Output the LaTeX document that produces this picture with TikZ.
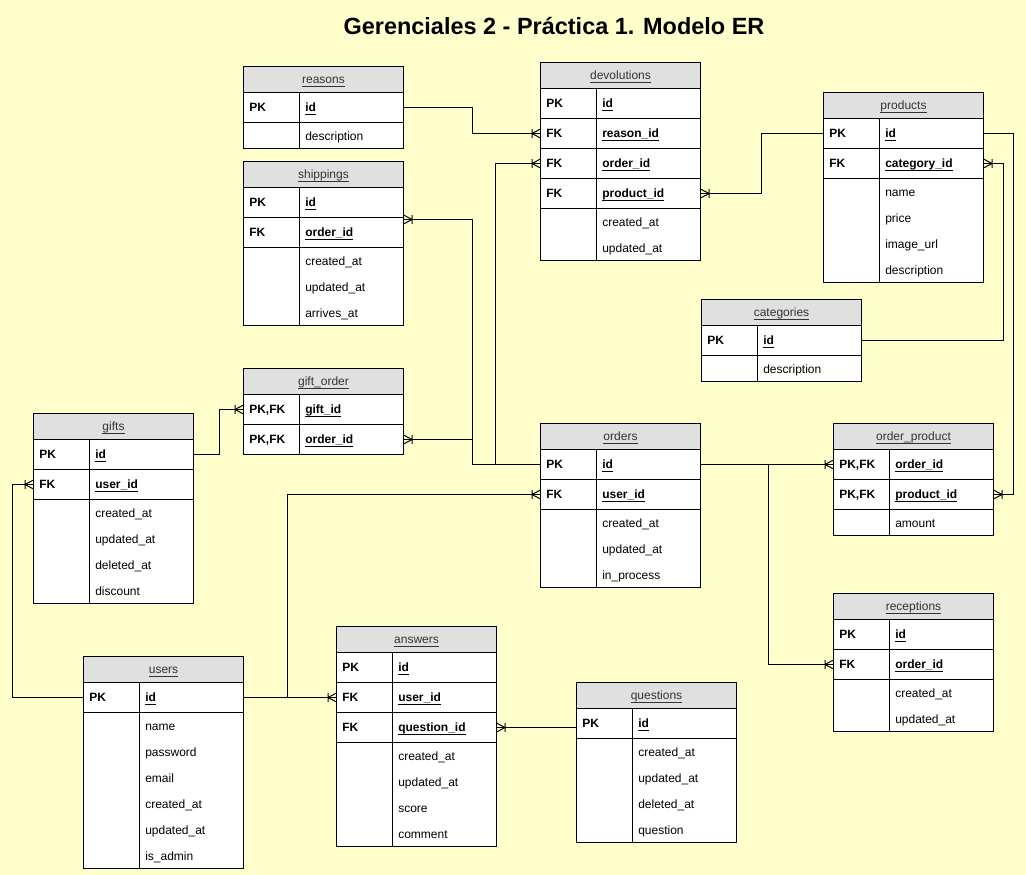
\documentclass[tikz,border=0pt]{standalone}
\usepackage{fontspec}
\setmainfont{Liberation Sans}
\usetikzlibrary{decorations.markings}
\definecolor{bg}{HTML}{FFFFCC}
\definecolor{hdrgray}{HTML}{E0E0E0}
\definecolor{hdrtext}{HTML}{333333}
\newcommand\ulx[1]{$\underline{\smash{\hbox{#1}}}$}
\newcommand\pkfk{PK,FK}
\tikzset{
 tbl/.style={draw=black, line width=0.75pt, inner sep=0pt, anchor=north west, minimum width=120pt},
 hdr/.style={tbl, fill=hdrgray, minimum height=19.5pt, text=hdrtext, font=\fontsize{9}{10}\selectfont, text height=6.6pt, text depth=0pt},
 keyrow/.style={tbl, fill=white, minimum height=22.5pt},
 attrbox/.style={tbl, fill=white},
 celltxt/.style={anchor=base west, inner sep=0pt, font=\fontsize{9}{10}\selectfont},
 keytxt/.style={celltxt, font=\fontsize{9}{10}\selectfont\bfseries},
 rel/.style={draw=black, line width=0.75pt, postaction={decorate, decoration={markings, mark=at position 1 with {\draw[line width=0.75pt] (-6pt,-3.2pt) -- (-6pt,3.2pt) (0pt,3.2pt) -- (-6pt,0pt) -- (0pt,-3.2pt);}}}},
}
\newcommand\ertable[8]{%
 \node[hdr] (#1) at (#3,#4) {\ulx{#2}};
 \foreach \kk/\ff/\nn [count=\ii] in {#5} {
   \node[keyrow] (#1-\nn) at ({#3},{#4+26+(\ii-1)*30}) {};
   \node[keytxt] (#1-\nn-k) at ([xshift=4.5pt,yshift=-3.3pt]#1-\nn.west) {\kk};
   \node[keytxt] (#1-\nn-f) at ([xshift=46.5pt,yshift=-3.3pt]#1-\nn.west) {\ulx{\ff}};
 }
 \ifnum#8>0
  \node[attrbox, minimum height={#8*19.5pt}] (#1-attrs) at ({#3},{#4+26+#6*30}) {};
  \foreach \aa [count=\ii] in {#7} {
   \node[celltxt] (#1-a\ii) at ({#3+62},{#4+26+#6*30+13+(\ii-1)*26+5.8}) {\aa};
  }
 \fi
 \draw[line width=0.75pt] ({#3+56},{#4+26}) -- ({#3+56},{#4+26+#6*30+#8*26});
}
\begin{document}
\begin{tikzpicture}[x=0.75pt,y=-0.75pt]
\fill[bg] (0,0) rectangle (1026,875);
\useasboundingbox (0,0) rectangle (1026,875);
\node[font=\fontsize{17.6}{20}\selectfont\bfseries] (title) at (554,26) {Gerenciales 2 - Práctica 1. Modelo ER};

\ertable{reasons}{reasons}{243}{66}{PK/id/id}{1}{description}{1}
\ertable{ship}{shippings}{243}{161}{PK/id/id, FK/order\_id/order}{2}{created\_at, updated\_at, arrives\_at}{3}
\ertable{devol}{devolutions}{540}{62}{PK/id/id, FK/reason\_id/reason, FK/order\_id/order, FK/product\_id/product}{4}{created\_at, updated\_at}{2}
\ertable{products}{products}{823}{92}{PK/id/id, FK/category\_id/cat}{2}{name, price, image\_url, description}{4}
\ertable{categories}{categories}{701}{299}{PK/id/id}{1}{description}{1}
\ertable{go}{gift\_order}{243}{368}{\pkfk/gift\_id/gift, \pkfk/order\_id/order}{2}{}{0}
\ertable{gifts}{gifts}{33}{413}{PK/id/id, FK/user\_id/user}{2}{created\_at, updated\_at, deleted\_at, discount}{4}
\ertable{users}{users}{83}{656}{PK/id/id}{1}{name, password, email, created\_at, updated\_at, is\_admin}{6}
\ertable{orders}{orders}{540}{423}{PK/id/id, FK/user\_id/user}{2}{created\_at, updated\_at, in\_process}{3}
\ertable{op}{order\_product}{833}{423}{\pkfk/order\_id/order, \pkfk/product\_id/product}{2}{amount}{1}
\ertable{rec}{receptions}{833}{593}{PK/id/id, FK/order\_id/order}{2}{created\_at, updated\_at}{2}
\ertable{answers}{answers}{336}{626}{PK/id/id, FK/user\_id/user, FK/question\_id/question}{3}{created\_at, updated\_at, score, comment}{4}
\ertable{questions}{questions}{576}{682}{PK/id/id}{1}{created\_at, updated\_at, deleted\_at, question}{4}

\draw[rel] (reasons-id.east) -- ++(68,0) |- (devol-reason.west);
\draw[rel] (orders-id.west) -- ++(-45,0) |- (devol-order.west);
\draw[rel] (orders-id.west) -- ++(-68,0) |- ([yshift=9.75pt]ship-order.east);
\draw[rel] (orders-id.west) -- ++(-68,0) |- (go-order.east);
\draw[rel] (products-id.west) -- ++(-62,0) |- (devol-product.east);
\draw[rel] (products-id.east) -- ++(29,0) |- (op-product.east);
\draw[rel] (categories-id.east) -- ++(141,0) |- (products-cat.east);
\draw[rel] (orders-id.east) -- (op-order.west);
\draw[rel] (orders-id.east) -- ++(67,0) |- (rec-order.west);
\draw[rel] (gifts-id.east) -- ++(25,0) |- (go-gift.west);
\draw[rel] (users-id.west) -- ++(-71,0) |- (gifts-user.west);
\draw[rel] (users-id.east) -- (answers-user.west);
\draw[rel] (users-id.east) -- ++(43,0) |- (orders-user.west);
\draw[rel] (questions-id.west |- answers-question.east) -- (answers-question.east);
\end{tikzpicture}
\end{document}
